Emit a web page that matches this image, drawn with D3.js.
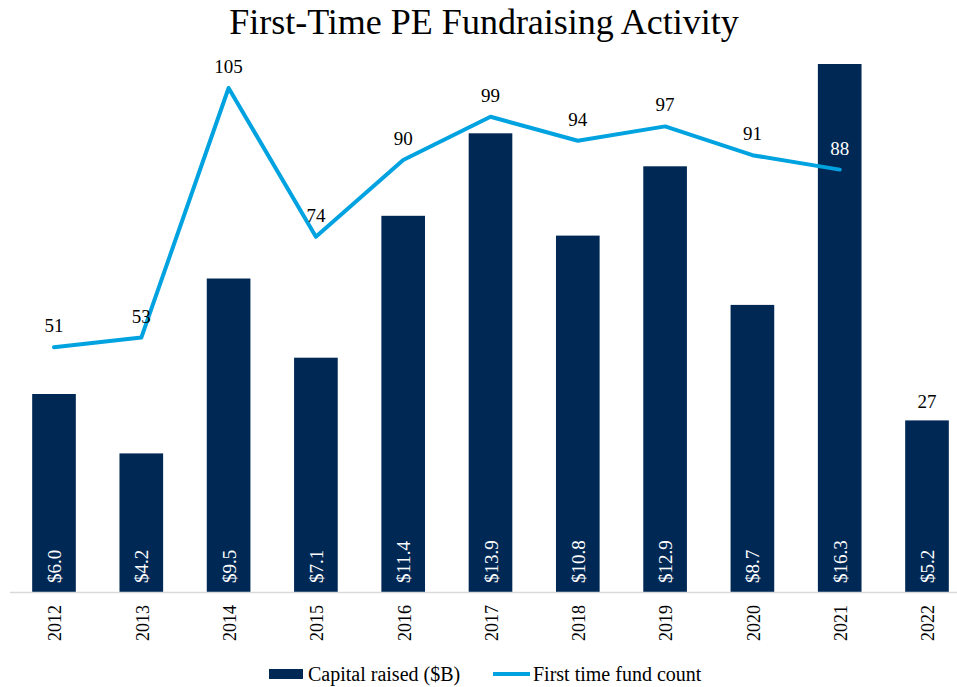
<!DOCTYPE html>
<html>
<head>
<meta charset="utf-8">
<script src="https://cdn.jsdelivr.net/npm/d3@7"></script>
<style>
  html, body { margin: 0; padding: 0; background: #fff; }
  svg { display: block; }
</style>
</head>
<body>
<svg id="chart" width="957" height="687"></svg>
<script>
const years = ["2012","2013","2014","2015","2016","2017","2018","2019","2020","2021","2022"];
const capitalRaised = [6.0, 4.2, 9.5, 7.1, 11.4, 13.9, 10.8, 12.9, 8.7, 16.3, 5.2];
const fundCount = [51, 53, 105, 74, 90, 99, 94, 97, 91, 88, 27];
const lineYears = ["2012","2013","2014","2015","2016","2017","2018","2019","2020","2021"];
const seriesNames = ["Capital raised ($B)", "First time fund count"];

const navy = "#002855", blue = "#00A3E0";
const font = "Liberation Serif, Times New Roman, serif";
const svg = d3.select("#chart");
const plotTop = 64, plotBase = 592;

const x = d3.scaleBand().domain(years).range([10.35, 970.65]).paddingInner(0.5).paddingOuter(0.25);
const yBar = d3.scaleLinear().domain([0, 16]).range([plotBase, plotTop]).clamp(true);
const yLine = d3.scaleLinear().domain([0, 110]).range([plotBase, plotTop]);
const cx = d => x(d) + x.bandwidth() / 2;

// title
svg.append("text").attr("x", 484).attr("y", 34).attr("text-anchor", "middle")
  .attr("font-family", font).attr("font-size", 36).attr("fill", "#000")
  .text("First-Time PE Fundraising Activity");

// bars
svg.append("g").selectAll("rect").data(years).join("rect")
  .attr("x", d => x(d)).attr("width", x.bandwidth())
  .attr("y", (d, i) => yBar(capitalRaised[i]))
  .attr("height", (d, i) => plotBase - yBar(capitalRaised[i]))
  .attr("fill", navy);

// bar value labels
svg.append("g").selectAll("text").data(years).join("text")
  .attr("transform", d => `translate(${cx(d) + 7},583) rotate(-90)`)
  .attr("text-anchor", "start")
  .attr("font-family", font).attr("font-size", 19).attr("fill", "#fff")
  .text((d, i) => "$" + capitalRaised[i].toFixed(1));

// x axis
const xAxis = d3.axisBottom(x).tickSize(0).tickPadding(0);
const gx = svg.append("g").attr("transform", `translate(0,${plotBase})`).call(xAxis);
gx.select(".domain").remove();
svg.append("line").attr("x1", 10).attr("x2", 957).attr("y1", plotBase + 0.5).attr("y2", plotBase + 0.5)
  .attr("stroke", "#d9d9d9").attr("stroke-width", 1.5);
gx.selectAll(".tick text")
  .attr("transform", "rotate(-90)")
  .attr("x", -13).attr("y", 1).attr("dy", "0.35em")
  .attr("text-anchor", "end")
  .attr("font-family", font).attr("font-size", 18).attr("fill", "#000");

// line
const lineData = lineYears.map((y, i) => ({ year: y, v: fundCount[i] }));
const line = d3.line().x(d => cx(d.year)).y(d => yLine(d.v));
svg.append("path").datum(lineData).attr("d", line)
  .attr("fill", "none").attr("stroke", blue).attr("stroke-width", 4)
  .attr("stroke-linecap", "round").attr("stroke-linejoin", "round");

// line labels
svg.append("g").selectAll("text").data(lineData).join("text")
  .attr("x", d => cx(d.year))
  .attr("y", d => yLine(d.v) - 15)
  .attr("text-anchor", "middle")
  .attr("font-family", font).attr("font-size", 19)
  .attr("fill", d => d.year === "2021" ? "#fff" : "#000")
  .text(d => d.v);

// 2022 count label placed above its bar
const last = years.length - 1;
svg.append("text")
  .attr("x", cx(years[last]))
  .attr("y", yBar(capitalRaised[last]) - 12)
  .attr("text-anchor", "middle")
  .attr("font-family", font).attr("font-size", 19).attr("fill", "#000")
  .text(fundCount[last]);

// legend
const lg = svg.append("g");
lg.append("rect").attr("x", 269).attr("y", 669).attr("width", 34).attr("height", 10).attr("fill", navy);
lg.append("text").attr("x", 308).attr("y", 681)
  .attr("font-family", font).attr("font-size", 20).attr("fill", "#000")
  .text(seriesNames[0]);
lg.append("line").attr("x1", 493).attr("x2", 530).attr("y1", 674).attr("y2", 674)
  .attr("stroke", blue).attr("stroke-width", 4);
lg.append("text").attr("x", 533).attr("y", 681)
  .attr("font-family", font).attr("font-size", 20).attr("fill", "#000")
  .text(seriesNames[1]);
</script>
</body>
</html>
